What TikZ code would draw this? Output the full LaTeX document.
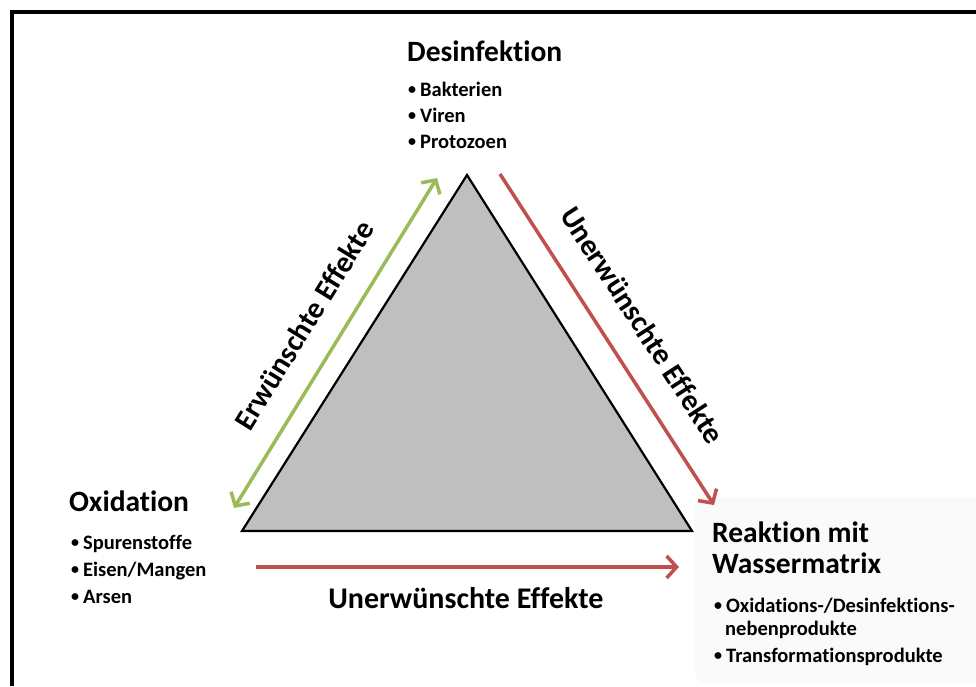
\documentclass[tikz,border=0pt]{standalone}
\usepackage{fontspec}
\setmainfont{Carlito}[Ligatures={NoCommon}]
\usetikzlibrary{arrows.meta}
\definecolor{accgreen}{HTML}{9BBB59}
\definecolor{accred}{HTML}{C0504D}
\definecolor{trigray}{HTML}{BFBFBF}
\newcommand{\bul}{\raisebox{1.8pt}{\fontsize{16}{16}\selectfont•}\hspace{4pt}}
\begin{document}
\begin{tikzpicture}[x=1pt,y=-1pt,
  title/.style={font=\bfseries\fontsize{29.5}{32}\selectfont, anchor=base west, inner sep=0pt},
  item/.style={font=\bfseries\fontsize{20.5}{22}\selectfont, anchor=base west, inner sep=0pt},
  efflabel/.style={font=\bfseries\fontsize{30}{32}\selectfont, inner sep=0pt},
  effarrow/.style={line width=3.5pt, -{Straight Barb[length=10pt,width=22pt,line width=3.5pt]}},
  goodarrow/.style={line width=3.5pt, {Straight Barb[length=10pt,width=22pt,line width=3.5pt]}-{Straight Barb[length=10pt,width=22pt,line width=3.5pt]}}]
\useasboundingbox (0,0) rectangle (976,686);
\fill[white] (0,0) rectangle (976,686);
% frame
\draw[line width=4pt] (12,686) -- (12,12) -- (976,12);
% faint box behind Reaktion
\fill[black!2, rounded corners=14pt] (694,497) rectangle (990,683);
% triangle
\coordinate (apex) at (467,175);
\coordinate (bl) at (242,531);
\coordinate (br) at (692,531);
\filldraw[fill=trigray, draw=black, line width=2.2pt, line join=miter] (apex) -- (br) -- (bl) -- cycle;
% arrows
\coordinate (g1) at (234,508);
\coordinate (g2) at (437,178);
\draw[goodarrow, accgreen] (g1) -- (g2);
\coordinate (r1) at (500,174);
\coordinate (r2) at (714,505);
\draw[effarrow, accred] (r1) -- (r2);
\coordinate (b1) at (256,567);
\coordinate (b2) at (679,567);
\draw[effarrow, accred] (b1) -- (b2);
% labels
\node[efflabel, rotate=58.3] (lg) at (304,325) {Erwünschte Effekte};
\node[efflabel, rotate=-57] (lr) at (643,325) {Unerwünschte Effekte};
\node[efflabel, anchor=base] (lb) at (466,608) {Unerwünschte Effekte};
% Desinfektion
\node[title] (des) at (407,61) {Desinfektion};
\node[item] (d1) at (408,96) {\bul Bakterien};
\node[item] (d2) at (408,122) {\bul Viren};
\node[item] (d3) at (408,148) {\bul Protozoen};
% Oxidation
\node[title] (ox) at (69,511) {Oxidation};
\node[item] (o1) at (71,549) {\bul Spurenstoffe};
\node[item] (o2) at (71,576) {\bul Eisen/Mangen};
\node[item] (o3) at (71,603) {\bul Arsen};
% Reaktion
\node[title] (re1) at (712,542) {Reaktion mit};
\node[title] (re2) at (712,573) {Wassermatrix};
\node[item] (r1t) at (714,612) {\bul Oxidations-/Desinfektions-};
\node[item] (r2t) at (725,635) {nebenprodukte};
\node[item] (r3t) at (714,662) {\bul Transformationsprodukte};
\end{tikzpicture}
\end{document}
